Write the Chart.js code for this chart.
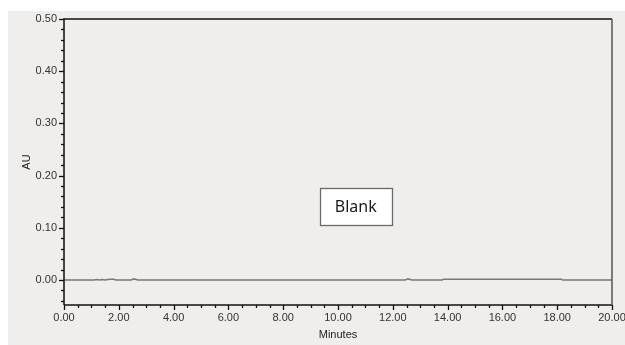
<!DOCTYPE html>
<html>
<head>
<meta charset="utf-8">
<script src="https://cdn.jsdelivr.net/npm/chart.js@4"></script>
<style>
  body { margin: 0; background: #fff; }
  #wrap { width: 625px; height: 345px; }
</style>
</head>
<body>
<div id="wrap"><canvas id="myChart" width="625" height="345"></canvas></div>
<script>
'use strict';

// chromatogram trace (minutes / AU)
var minutes = [0, 1.1, 1.2, 1.3, 1.4, 1.5, 1.6, 1.7, 1.8, 1.9, 2.45, 2.55, 2.7, 12.45, 12.55, 12.7, 13.8, 13.85, 18.15, 18.2, 19.4, 19.5, 20];
var au = [0, 0, 0.001, 0, 0.001, 0, 0.001, 0.0015, 0.0015, 0, 0, 0.002, 0, 0, 0.002, 0, 0, 0.0012, 0.0012, 0, 0, 0, 0];

// axis ticks
var xTicks = [0, 2, 4, 6, 8, 10, 12, 14, 16, 18, 20];
var yTicks = [0, 0.1, 0.2, 0.3, 0.4, 0.5];

// text box label, anchored in data space
var boxText = 'Blank';
var boxAt = [10.65, 0.14];

var tickFont = { family: "'Liberation Sans', Arial, sans-serif", size: 11 };

// background + frame + minor ticks + label box
var decor = {
  id: 'decor',
  beforeDraw: function (chart) {
    var c = chart.ctx;
    c.save();
    c.fillStyle = '#ffffff';
    c.fillRect(0, 0, chart.width, chart.height);
    c.fillStyle = '#efeeec';
    c.fillRect(8, 11, chart.width - 8, chart.height - 11);
    c.restore();
  },
  afterDraw: function (chart) {
    var c = chart.ctx;
    var a = chart.chartArea;
    var xs = chart.scales.x;
    var ys = chart.scales.y;
    c.save();

    // frame
    c.lineWidth = 1.5;
    c.strokeStyle = '#111';
    c.beginPath();
    c.moveTo(a.left, a.bottom);
    c.lineTo(a.left, a.top);
    c.lineTo(a.right, a.top);
    c.stroke();
    c.beginPath();
    c.moveTo(a.left, a.bottom);
    c.lineTo(a.right, a.bottom);
    c.stroke();
    c.strokeStyle = '#555';
    c.beginPath();
    c.moveTo(a.right, a.top);
    c.lineTo(a.right, a.bottom);
    c.stroke();

    // ticks
    c.lineWidth = 1.3;
    c.strokeStyle = '#111';
    var i, v, p, len;
    for (i = 0; i <= 40; i++) {
      v = i * 0.5;
      p = Math.round(xs.getPixelForValue(v)) + 0.5;
      len = (i % 4 === 0) ? 5 : 3;
      c.beginPath();
      c.moveTo(p, a.bottom);
      c.lineTo(p, a.bottom + len);
      c.stroke();
    }
    for (i = -2; i <= 25; i++) {
      v = i * 0.02;
      p = Math.round(ys.getPixelForValue(v)) + 0.5;
      len = (i % 5 === 0) ? 5 : 3;
      c.beginPath();
      c.moveTo(a.left, p);
      c.lineTo(a.left - len, p);
      c.stroke();
    }

    // label box
    var bx = xs.getPixelForValue(boxAt[0]);
    var by = ys.getPixelForValue(boxAt[1]);
    var w = 72, h = 37;
    c.fillStyle = '#ffffff';
    c.fillRect(bx - w / 2, by - h / 2, w, h);
    c.lineWidth = 1.3;
    c.strokeStyle = '#6a6a6a';
    c.strokeRect(Math.round(bx - w / 2) + 0.5, Math.round(by - h / 2) + 0.5, w, h);
    c.fillStyle = '#1a1a1a';
    c.font = "16px 'Noto Sans', 'Open Sans', sans-serif";
    c.textAlign = 'center';
    c.textBaseline = 'middle';
    c.fillText(boxText, bx, by + 1);
    c.restore();
  }
};

var points = minutes.map(function (m, i) { return { x: m, y: au[i] }; });

var ctx = document.getElementById('myChart').getContext('2d');
var chart = new Chart(ctx, {
  type: 'line',
  data: {
    datasets: [{
      data: points,
      borderColor: '#787878',
      borderWidth: 1.5,
      pointRadius: 0,
      tension: 0,
      fill: false
    }]
  },
  options: {
    responsive: false,
    animation: false,
    events: [],
    layout: { padding: { top: 19, right: 13, left: 0, bottom: 0 } },
    plugins: { legend: { display: false }, tooltip: { enabled: false } },
    scales: {
      x: {
        type: 'linear',
        min: 0,
        max: 20,
        afterFit: function (s) { s.height = 40; s.paddingLeft = 0; s.paddingRight = 0; },
        afterBuildTicks: function (s) { s.ticks = xTicks.map(function (v) { return { value: v }; }); },
        grid: { display: false, drawTicks: false },
        border: { display: false },
        ticks: {
          padding: 6,
          color: '#333',
          font: tickFont,
          maxRotation: 0,
          autoSkip: false,
          callback: function (v) { return v.toFixed(2); }
        },
        title: {
          display: true,
          text: 'Minutes',
          color: '#222',
          font: tickFont,
          padding: { top: 0, bottom: 3 }
        }
      },
      y: {
        min: -0.048,
        max: 0.5,
        afterFit: function (s) { s.width = 64; s.paddingTop = 0; s.paddingBottom = 0; },
        afterBuildTicks: function (s) { s.ticks = yTicks.map(function (v) { return { value: v }; }); },
        grid: { display: false, drawTicks: false },
        border: { display: false },
        ticks: {
          padding: 7,
          color: '#333',
          font: tickFont,
          callback: function (v) { return v.toFixed(2); }
        },
        title: {
          display: true,
          text: 'AU',
          color: '#222',
          font: tickFont,
          padding: { top: 20, bottom: 0 }
        }
      }
    }
  },
  plugins: [decor]
});
</script>
</body>
</html>
